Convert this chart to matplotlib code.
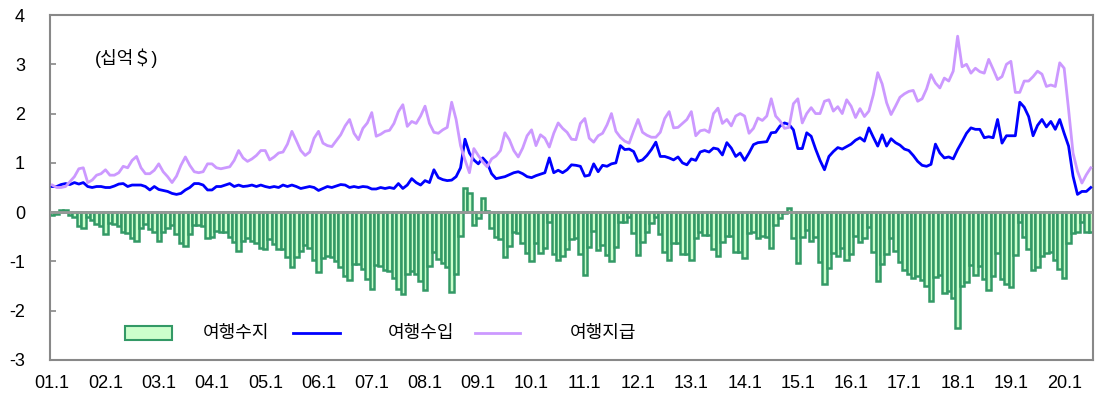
import matplotlib
matplotlib.use('Agg')
import matplotlib.pyplot as plt
from matplotlib.patches import Rectangle
import numpy as np

plt.rcParams['font.family'] = ['Liberation Sans', 'Noto Sans CJK KR']
plt.rcParams['axes.unicode_minus'] = False

# 월별 여행수입 (십억$), 2001.1 ~ 2020.7
receipts = [
    0.52, 0.52, 0.56, 0.58, 0.56, 0.60, 0.57, 0.60, 0.52, 0.50, 0.52, 0.52,
    0.50, 0.50, 0.53, 0.57, 0.58, 0.52, 0.55, 0.55, 0.55, 0.52, 0.45, 0.52,
    0.46, 0.44, 0.42, 0.38, 0.36, 0.38, 0.45, 0.50, 0.58, 0.58, 0.55, 0.45,
    0.45, 0.52, 0.52, 0.55, 0.58, 0.52, 0.55, 0.52, 0.53, 0.55, 0.52, 0.55,
    0.52, 0.50, 0.52, 0.50, 0.55, 0.52, 0.55, 0.52, 0.48, 0.50, 0.52, 0.50,
    0.44, 0.48, 0.52, 0.50, 0.53, 0.56, 0.55, 0.50, 0.52, 0.50, 0.52, 0.51,
    0.47, 0.47, 0.50, 0.48, 0.50, 0.48, 0.58, 0.48, 0.55, 0.68, 0.60, 0.55,
    0.64, 0.60, 0.86, 0.70, 0.66, 0.64, 0.65, 0.72, 0.90, 1.48, 1.20, 1.06,
    0.98, 1.10, 1.00, 0.78, 0.68, 0.70, 0.72, 0.76, 0.80, 0.82, 0.78, 0.72,
    0.70, 0.74, 0.77, 0.80, 1.10, 0.80, 0.85, 0.80, 0.86, 0.96, 0.95, 0.93,
    0.73, 0.75, 0.98, 0.82, 0.95, 0.93, 0.98, 1.00, 1.35, 1.27, 1.28, 1.23,
    1.03, 1.06, 1.15, 1.27, 1.42, 1.13, 1.13, 1.10, 1.06, 1.12, 1.00, 0.96,
    1.08, 1.05, 1.22, 1.25, 1.22, 1.30, 1.28, 1.16, 1.41, 1.30, 1.13, 1.20,
    1.05, 1.20, 1.37, 1.41, 1.42, 1.43, 1.61, 1.62, 1.75, 1.81, 1.78, 1.67,
    1.29, 1.29, 1.61, 1.54, 1.28, 1.05, 0.86, 1.13, 1.23, 1.31, 1.28, 1.33,
    1.38, 1.46, 1.51, 1.44, 1.71, 1.52, 1.34, 1.57, 1.34, 1.49, 1.41, 1.36,
    1.28, 1.25, 1.15, 1.03, 0.95, 0.93, 0.97, 1.38, 1.20, 1.10, 1.12, 1.08,
    1.27, 1.43, 1.60, 1.71, 1.68, 1.68, 1.51, 1.53, 1.51, 1.88, 1.40, 1.55,
    1.55, 1.55, 2.23, 2.13, 1.94, 1.55, 1.76, 1.88, 1.73, 1.84, 1.68, 1.88,
    1.60, 1.34, 0.73, 0.36, 0.42, 0.42, 0.50,
]

# 월별 여행지급
payments = [
    0.55, 0.50, 0.50, 0.52, 0.62, 0.72, 0.88, 0.90, 0.60, 0.65, 0.75, 0.78,
    0.86, 0.75, 0.75, 0.80, 0.93, 0.90, 1.05, 1.13, 0.90, 0.78, 0.78, 0.85,
    0.98, 0.82, 0.72, 0.60, 0.73, 0.95, 1.12, 0.95, 0.82, 0.80, 0.82, 0.98,
    0.98, 0.90, 0.88, 0.90, 0.92, 1.05, 1.25, 1.10, 1.03, 1.08, 1.15, 1.25,
    1.25, 1.06, 1.12, 1.20, 1.22, 1.38, 1.64, 1.45, 1.25, 1.15, 1.22, 1.50,
    1.64, 1.40, 1.35, 1.33, 1.45, 1.57, 1.75, 1.88, 1.60, 1.47, 1.70, 1.81,
    2.02, 1.54, 1.58, 1.64, 1.66, 1.80, 2.04, 2.18, 1.74, 1.84, 1.80, 1.95,
    2.15, 1.80, 1.62, 1.60, 1.67, 1.72, 2.23, 1.88, 1.35, 1.06, 0.80, 1.29,
    1.15, 1.02, 0.92, 1.08, 1.14, 1.25, 1.61, 1.47, 1.25, 1.12, 1.30, 1.55,
    1.67, 1.35, 1.57, 1.50, 1.32, 1.60, 1.81, 1.70, 1.62, 1.48, 1.47, 1.80,
    1.90, 1.50, 1.42, 1.55, 1.60, 1.77, 2.00, 1.64, 1.52, 1.44, 1.40, 1.65,
    1.88, 1.62, 1.56, 1.52, 1.52, 1.62, 1.90, 2.04, 1.71, 1.72, 1.80, 1.88,
    2.04, 1.55, 1.65, 1.67, 1.62, 2.00, 2.11, 1.80, 1.88, 1.75, 1.95, 2.00,
    1.95, 1.60, 1.70, 1.91, 1.86, 1.95, 2.30, 1.95, 1.85, 1.70, 1.72, 2.20,
    2.30, 1.81, 2.00, 2.12, 2.00, 2.00, 2.25, 2.28, 2.05, 2.14, 2.00, 2.28,
    2.15, 1.92, 2.10, 1.94, 2.05, 2.38, 2.83, 2.60, 2.22, 1.98, 2.15, 2.33,
    2.40, 2.45, 2.47, 2.25, 2.30, 2.50, 2.79, 2.62, 2.52, 2.72, 2.66, 2.86,
    3.57, 2.95, 3.00, 2.82, 2.92, 2.85, 2.82, 3.10, 2.90, 2.69, 2.75, 3.00,
    3.06, 2.43, 2.43, 2.66, 2.66, 2.75, 2.86, 2.80, 2.55, 2.58, 2.55, 3.03,
    2.92, 2.08, 1.20, 0.83, 0.59, 0.76, 0.90,
]

# 월별 여행수지
balance = [
    -0.05, -0.03, 0.05, 0.05, -0.05, -0.10, -0.29, -0.33, -0.10, -0.15, -0.24, -0.28,
    -0.44, -0.22, -0.25, -0.28, -0.40, -0.42, -0.52, -0.58, -0.32, -0.24, -0.35, -0.40,
    -0.58, -0.40, -0.32, -0.26, -0.45, -0.62, -0.68, -0.45, -0.26, -0.26, -0.28, -0.52,
    -0.50, -0.39, -0.40, -0.40, -0.50, -0.60, -0.78, -0.58, -0.52, -0.58, -0.63, -0.72,
    -0.75, -0.55, -0.65, -0.75, -0.75, -0.90, -1.12, -0.90, -0.78, -0.66, -0.72, -0.98,
    -1.22, -0.93, -0.88, -0.90, -1.00, -1.12, -1.30, -1.38, -1.06, -1.05, -1.15, -1.35,
    -1.56, -1.08, -1.10, -1.18, -1.20, -1.33, -1.55, -1.67, -1.25, -1.20, -1.25, -1.40,
    -1.57, -1.10, -0.80, -0.95, -1.03, -1.12, -1.62, -1.25, -0.49, 0.48, 0.39, -0.27,
    -0.11, 0.29, 0.02, -0.33, -0.50, -0.55, -0.92, -0.68, -0.40, -0.42, -0.62, -0.82,
    -1.00, -0.62, -0.82, -0.72, -0.20, -0.85, -0.97, -0.88, -0.75, -0.55, -0.52, -0.85,
    -1.27, -0.70, -0.38, -0.77, -0.66, -0.86, -0.99, -0.70, -0.20, -0.19, -0.10, -0.42,
    -0.86, -0.60, -0.40, -0.22, -0.09, -0.45, -0.80, -0.97, -0.62, -0.63, -0.85, -0.85,
    -0.97, -0.52, -0.41, -0.46, -0.46, -0.75, -0.88, -0.60, -0.48, -0.48, -0.81, -0.80,
    -0.93, -0.42, -0.40, -0.52, -0.48, -0.50, -0.72, -0.27, -0.12, -0.02, 0.08, -0.53,
    -1.03, -0.51, -0.37, -0.59, -0.50, -1.02, -1.45, -1.13, -0.82, -0.88, -0.73, -0.98,
    -0.85, -0.49, -0.60, -0.52, -0.31, -0.80, -1.40, -1.06, -0.85, -0.52, -0.78, -1.02,
    -1.18, -1.25, -1.33, -1.30, -1.37, -1.50, -1.81, -1.32, -1.28, -1.64, -1.60, -1.74,
    -2.35, -1.50, -1.42, -1.08, -1.28, -1.10, -1.36, -1.58, -1.30, -0.83, -1.36, -1.46,
    -1.51, -0.87, -0.19, -0.50, -0.74, -1.17, -1.11, -0.88, -0.82, -0.80, -0.97, -1.15,
    -1.33, -0.62, -0.42, -0.40, -0.20, -0.40, -0.40,
]

year_labels = ['01.1', '02.1', '03.1', '04.1', '05.1', '06.1', '07.1', '08.1', '09.1', '10.1',
               '11.1', '12.1', '13.1', '14.1', '15.1', '16.1', '17.1', '18.1', '19.1', '20.1']

BAR_FACE = '#ccffcc'
BAR_EDGE = '#339966'
BLUE = '#0000ff'
VIOLET = '#cc99ff'
FRAME = '#888888'

fig = plt.figure(figsize=(10.95, 3.95), dpi=100)
ax = fig.add_axes([50 / 1095, 35 / 395, 1043 / 1095, 345 / 395])

x = np.arange(len(balance))
ax.bar(x, balance, width=1.0, color=BAR_FACE, edgecolor=BAR_EDGE, linewidth=1.8, zorder=2)
ax.axhline(0, color='#999999', linewidth=2, zorder=3)
ax.plot(x, receipts, color=BLUE, linewidth=2.0, zorder=4)
ax.plot(x, payments, color=VIOLET, linewidth=2.0, zorder=4)

ax.set_xlim(-0.5, len(balance) - 0.5)
ax.set_ylim(-3, 4)
ax.set_yticks(range(-3, 5))
ax.set_xticks(range(0, len(balance), 12))
ax.set_xticklabels(year_labels)
ax.tick_params(axis='x', length=0, pad=11, labelsize=13)
ax.tick_params(axis='y', direction='in', length=4, width=1.2, color=FRAME, pad=18, labelsize=13)
for sp in ax.spines.values():
    sp.set_color(FRAME)
    sp.set_linewidth(1.5)

ax.text(0.043, 0.875, '(십억＄)', transform=ax.transAxes, va='center', fontsize=13)

# 범례 (직접 그리기)
ly = 0.078
ax.add_patch(Rectangle((0.0719, 0.058), 0.045, 0.041, transform=ax.transAxes,
                       facecolor=BAR_FACE, edgecolor=BAR_EDGE, linewidth=1.5, zorder=5))
ax.text(0.1467, ly, '여행수지', transform=ax.transAxes, va='center', fontsize=13)
ax.plot([0.233, 0.278], [ly, ly], transform=ax.transAxes, color=BLUE, linewidth=2.0)
ax.text(0.324, ly, '여행수입', transform=ax.transAxes, va='center', fontsize=13)
ax.plot([0.4075, 0.4506], [ly, ly], transform=ax.transAxes, color=VIOLET, linewidth=2.0)
ax.text(0.4986, ly, '여행지급', transform=ax.transAxes, va='center', fontsize=13)

fig.savefig('out.png', dpi=100)
